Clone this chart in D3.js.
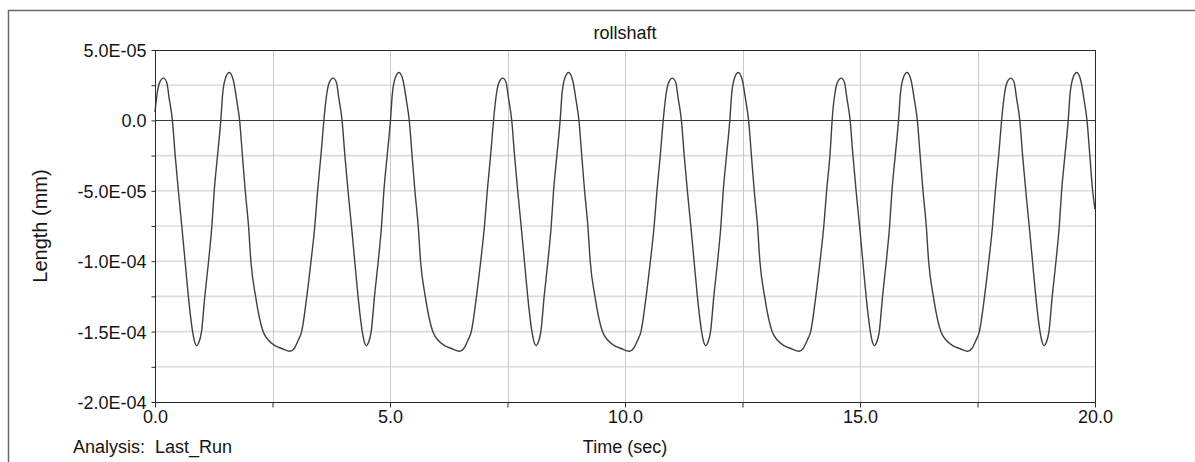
<!DOCTYPE html>
<html>
<head>
    <title>rollshaft</title>
    <script src="https://d3js.org/d3.v7.min.js"></script>
    <style>
        body {
            margin: 0;
            background: #fff;
        }
        #chartdiv text {
            font-family: "Liberation Sans", Arial, sans-serif;
            fill: #151515;
        }
    </style>
</head>
<body>
    <svg id="chartdiv"></svg>
    <script>
        // values, length in units of 1E-06 mm
        const timeSec = [
            0, 0.05, 0.10, 0.18, 0.25, 0.30, 0.37, 0.43, 0.50, 0.57, 0.64, 0.71, 0.80, 0.85, 0.89, 0.93,
            0.99, 1.06, 1.14, 1.21, 1.26, 1.33, 1.40, 1.44, 1.51, 1.58, 1.67, 1.74, 1.80, 1.86, 1.92, 1.99,
            2.04, 2.14, 2.30, 2.41, 2.55, 2.70, 2.87, 2.96, 3.05, 3.12, 3.23, 3.32, 3.40, 3.46, 3.53,
            3.61, 3.66, 3.71, 3.79, 3.86, 3.91, 3.98, 4.04, 4.11, 4.18, 4.25, 4.32, 4.41, 4.46, 4.50, 4.54,
            4.60, 4.67, 4.75, 4.82, 4.87, 4.94, 5.01, 5.05, 5.12, 5.19, 5.28, 5.35, 5.41, 5.47, 5.53, 5.60,
            5.65, 5.75, 5.91, 6.02, 6.16, 6.31, 6.48, 6.57, 6.66, 6.73, 6.84, 6.93, 7.01, 7.07, 7.14,
            7.22, 7.27, 7.32, 7.40, 7.47, 7.52, 7.59, 7.65, 7.72, 7.79, 7.86, 7.93, 8.02, 8.07, 8.11, 8.15,
            8.21, 8.28, 8.36, 8.43, 8.48, 8.55, 8.62, 8.66, 8.73, 8.80, 8.89, 8.96, 9.02, 9.08, 9.14, 9.21,
            9.26, 9.36, 9.52, 9.63, 9.77, 9.92, 10.09, 10.18, 10.27, 10.34, 10.45, 10.54, 10.62, 10.68, 10.75,
            10.83, 10.88, 10.93, 11.01, 11.08, 11.13, 11.20, 11.26, 11.33, 11.40, 11.47, 11.54, 11.63, 11.68, 11.72, 11.76,
            11.82, 11.89, 11.97, 12.04, 12.09, 12.16, 12.23, 12.27, 12.34, 12.41, 12.50, 12.57, 12.63, 12.69, 12.75, 12.82,
            12.87, 12.97, 13.13, 13.24, 13.38, 13.53, 13.70, 13.79, 13.88, 13.95, 14.06, 14.15, 14.23, 14.29, 14.36,
            14.42, 14.47, 14.52, 14.60, 14.67, 14.72, 14.79, 14.85, 14.92, 14.99, 15.06, 15.13, 15.22, 15.27, 15.31, 15.35,
            15.41, 15.48, 15.56, 15.63, 15.68, 15.75, 15.82, 15.86, 15.93, 16.00, 16.09, 16.16, 16.22, 16.28, 16.34, 16.41,
            16.46, 16.56, 16.72, 16.83, 16.97, 17.12, 17.29, 17.38, 17.47, 17.54, 17.65, 17.74, 17.82, 17.88, 17.95,
            18.03, 18.08, 18.13, 18.21, 18.28, 18.33, 18.40, 18.46, 18.53, 18.60, 18.67, 18.74, 18.83, 18.88, 18.92, 18.96,
            19.02, 19.09, 19.17, 19.24, 19.29, 19.36, 19.43, 19.47, 19.54, 19.61, 19.70, 19.77, 19.83, 19.89, 19.95, 20.00
        ];
        const lengthMicro = [
            6, 20, 27, 30, 27, 16, 0, -25, -51, -75, -100, -125, -150, -158, -160, -158,
            -150, -125, -100, -75, -50, -25, 0, 19, 31, 34, 28, 14, 0, -25, -50, -75,
            -100, -125, -150, -156, -160, -162, -164, -162, -156, -150, -125, -100, -75, -50, -25,
            6, 20, 27, 30, 27, 16, 0, -25, -51, -75, -100, -125, -150, -158, -160, -158,
            -150, -125, -100, -75, -50, -25, 0, 19, 31, 34, 28, 14, 0, -25, -50, -75,
            -100, -125, -150, -156, -160, -162, -164, -162, -156, -150, -125, -100, -75, -50, -25,
            6, 20, 27, 30, 27, 16, 0, -25, -51, -75, -100, -125, -150, -158, -160, -158,
            -150, -125, -100, -75, -50, -25, 0, 19, 31, 34, 28, 14, 0, -25, -50, -75,
            -100, -125, -150, -156, -160, -162, -164, -162, -156, -150, -125, -100, -75, -50, -25,
            6, 20, 27, 30, 27, 16, 0, -25, -51, -75, -100, -125, -150, -158, -160, -158,
            -150, -125, -100, -75, -50, -25, 0, 19, 31, 34, 28, 14, 0, -25, -50, -75,
            -100, -125, -150, -156, -160, -162, -164, -162, -156, -150, -125, -100, -75, -50, -25,
            6, 20, 27, 30, 27, 16, 0, -25, -51, -75, -100, -125, -150, -158, -160, -158,
            -150, -125, -100, -75, -50, -25, 0, 19, 31, 34, 28, 14, 0, -25, -50, -75,
            -100, -125, -150, -156, -160, -162, -164, -162, -156, -150, -125, -100, -75, -50, -25,
            6, 20, 27, 30, 27, 16, 0, -25, -51, -75, -100, -125, -150, -158, -160, -158,
            -150, -125, -100, -75, -50, -25, 0, 19, 31, 34, 28, 14, 0, -25, -50, -63
        ];

        const yTicks = [5.0E-05, 0, -5.0E-05, -1.0E-04, -1.5E-04, -2.0E-04];
        const yTickLabels = ["5.0E-05", "0.0", "-5.0E-05", "-1.0E-04", "-1.5E-04", "-2.0E-04"];
        const yMinorTicks = [2.5E-05, -2.5E-05, -7.5E-05, -1.25E-04, -1.75E-04];
        const xTicks = [0, 5, 10, 15, 20];
        const xTickLabels = ["0.0", "5.0", "10.0", "15.0", "20.0"];
        const xMinorTicks = [2.5, 7.5, 12.5, 17.5];

        const title = "rollshaft";
        const xTitle = "Time (sec)";
        const yTitle = "Length (mm)";
        const footer = "Analysis:  Last_Run";

        const width = 1195;
        const height = 462;
        const plot = { left: 155, top: 50, right: 1095, bottom: 402 };

        const data = timeSec.map((t, i) => ({ t: t, v: lengthMicro[i] * 1e-6 }));

        const svg = d3.select("#chartdiv")
            .attr("width", width)
            .attr("height", height)
            .attr("viewBox", [0, 0, width, height]);

        const x = d3.scaleLinear().domain([0, 20]).range([plot.left, plot.right]);
        const y = d3.scaleLinear().domain([-2.0E-04, 5.0E-05]).range([plot.bottom, plot.top]);

        // outer frame (top and left only)
        svg.append("path")
            .attr("d", `M8.5,${height} V10.5 H${width}`)
            .attr("fill", "none")
            .attr("stroke", "#6a6a6a")
            .attr("stroke-width", 1.5);

        // horizontal grid
        svg.append("g")
            .selectAll("line")
            .data(yTicks.concat(yMinorTicks).filter(d => d !== 0 && d !== 5.0E-05 && d !== -2.0E-04))
            .join("line")
            .attr("x1", plot.left).attr("x2", plot.right)
            .attr("y1", d => y(d)).attr("y2", d => y(d))
            .attr("stroke", "#dcdcdc")
            .attr("stroke-width", 1.6);

        // vertical grid
        svg.append("g")
            .selectAll("line")
            .data(xTicks.concat(xMinorTicks).filter(d => d > 0 && d < 20))
            .join("line")
            .attr("x1", d => Math.round(x(d)) + 0.5).attr("x2", d => Math.round(x(d)) + 0.5)
            .attr("y1", plot.top).attr("y2", plot.bottom)
            .attr("stroke", "#c8c8c8")
            .attr("stroke-width", 1);

        // zero line
        svg.append("line")
            .attr("x1", plot.left).attr("x2", plot.right)
            .attr("y1", Math.round(y(0)) + 0.5).attr("y2", Math.round(y(0)) + 0.5)
            .attr("stroke", "#3a3a3a")
            .attr("stroke-width", 1);

        // the curve
        const line = d3.line()
            .x(d => x(d.t))
            .y(d => y(d.v))
            .curve(d3.curveMonotoneX);

        svg.append("path")
            .datum(data)
            .attr("d", line)
            .attr("fill", "none")
            .attr("stroke", "#404040")
            .attr("stroke-width", 1.4);

        // plot frame
        svg.append("rect")
            .attr("x", plot.left + 0.5)
            .attr("y", plot.top + 0.5)
            .attr("width", plot.right - plot.left)
            .attr("height", plot.bottom - plot.top)
            .attr("fill", "none")
            .attr("stroke", "#2a2a2a")
            .attr("stroke-width", 1);

        // axes
        const yAxis = svg.append("g")
            .attr("transform", `translate(${plot.left + 0.5},0)`)
            .call(d3.axisLeft(y)
                .tickValues(yTicks.concat(yMinorTicks))
                .tickSize(4)
                .tickPadding(5)
                .tickFormat(d => {
                    const i = yTicks.indexOf(d);
                    return i >= 0 ? yTickLabels[i] : "";
                }));
        yAxis.select(".domain").remove();
        yAxis.selectAll(".tick line").attr("stroke", "#2a2a2a");
        yAxis.selectAll(".tick text")
            .attr("font-size", 18)
            .attr("dy", "0.36em")
            .attr("font-family", null);

        const xAxis = svg.append("g")
            .attr("transform", `translate(0,${plot.bottom + 0.5})`)
            .call(d3.axisBottom(x)
                .tickValues(xTicks.concat(xMinorTicks))
                .tickSize(5)
                .tickPadding(3)
                .tickFormat(d => {
                    const i = xTicks.indexOf(d);
                    return i >= 0 ? xTickLabels[i] : "";
                }));
        xAxis.select(".domain").remove();
        xAxis.selectAll(".tick line").attr("stroke", "#2a2a2a");
        xAxis.selectAll(".tick text")
            .attr("font-size", 18)
            .attr("font-family", null);

        // titles
        svg.append("text")
            .attr("x", (plot.left + plot.right) / 2)
            .attr("y", 39)
            .attr("text-anchor", "middle")
            .attr("font-size", 18)
            .text(title);

        svg.append("text")
            .attr("x", (plot.left + plot.right) / 2)
            .attr("y", 453)
            .attr("text-anchor", "middle")
            .attr("font-size", 18)
            .text(xTitle);

        svg.append("text")
            .attr("transform", `translate(47,${(plot.top + plot.bottom) / 2}) rotate(-90)`)
            .attr("text-anchor", "middle")
            .attr("font-size", 20)
            .text(yTitle);

        svg.append("text")
            .attr("x", 73)
            .attr("y", 453)
            .attr("font-size", 18)
            .style("white-space", "pre")
            .text(footer);
    </script>
</body>
</html>
